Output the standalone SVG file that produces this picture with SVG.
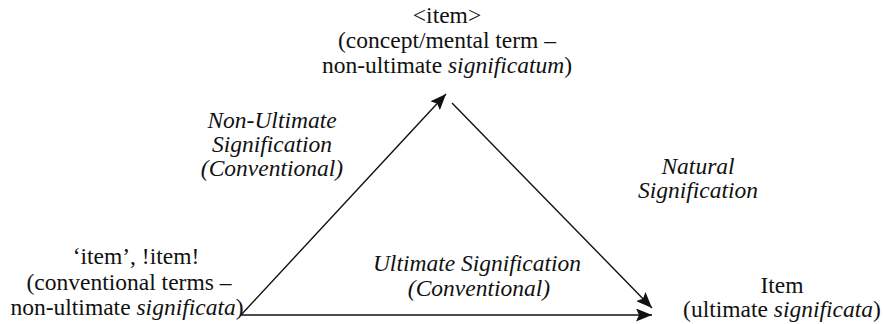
<svg xmlns="http://www.w3.org/2000/svg" width="884" height="324" viewBox="0 0 884 324" font-family="Liberation Serif, Times New Roman, serif" font-size="23.5">
<style>
text{font-family:"Liberation Serif",serif;fill:#111;text-anchor:middle}
.it{font-style:italic}
.edge{stroke:#111;stroke-width:1.4;fill:none;marker-end:url(#ah)}
</style>
<defs>
<marker id="ah" markerUnits="userSpaceOnUse" markerWidth="17" markerHeight="13" refX="16" refY="6.5" orient="auto">
<path d="M0,0 L16,6.5 L0,13 L3,6.5 z" fill="#111"/>
</marker>
</defs>
<g id="connectors">
<line class="edge" x1="241" y1="315" x2="446" y2="94"/>
<line class="edge" x1="452" y1="103" x2="652" y2="308"/>
<line class="edge" x1="241" y1="315" x2="652" y2="315"/>
</g>
<g id="node-concept">
<text x="447" y="23">&lt;item&gt;</text>
<text x="447" y="48">(concept/mental term –</text>
<text x="447" y="73">non-ultimate <tspan class="it">significatum</tspan>)</text>
</g>
<g id="node-conventional">
<text x="136" y="264">‘item’, !item!</text>
<text x="129" y="290">(conventional terms –</text>
<text x="127" y="315">non-ultimate <tspan class="it">significata</tspan>)</text>
</g>
<g id="node-item">
<text x="782" y="293">Item</text>
<text x="782" y="317">(ultimate <tspan class="it">significata</tspan>)</text>
</g>
<g id="label-nonultimate">
<text class="it" x="272" y="128">Non-Ultimate</text>
<text class="it" x="272" y="152">Signification</text>
<text class="it" x="272" y="176">(Conventional)</text>
</g>
<g id="label-natural">
<text class="it" x="698" y="174">Natural</text>
<text class="it" x="698" y="198">Signification</text>
</g>
<g id="label-ultimate">
<text class="it" x="477" y="271">Ultimate Signification</text>
<text class="it" x="479" y="296">(Conventional)</text>
</g>
</svg>
